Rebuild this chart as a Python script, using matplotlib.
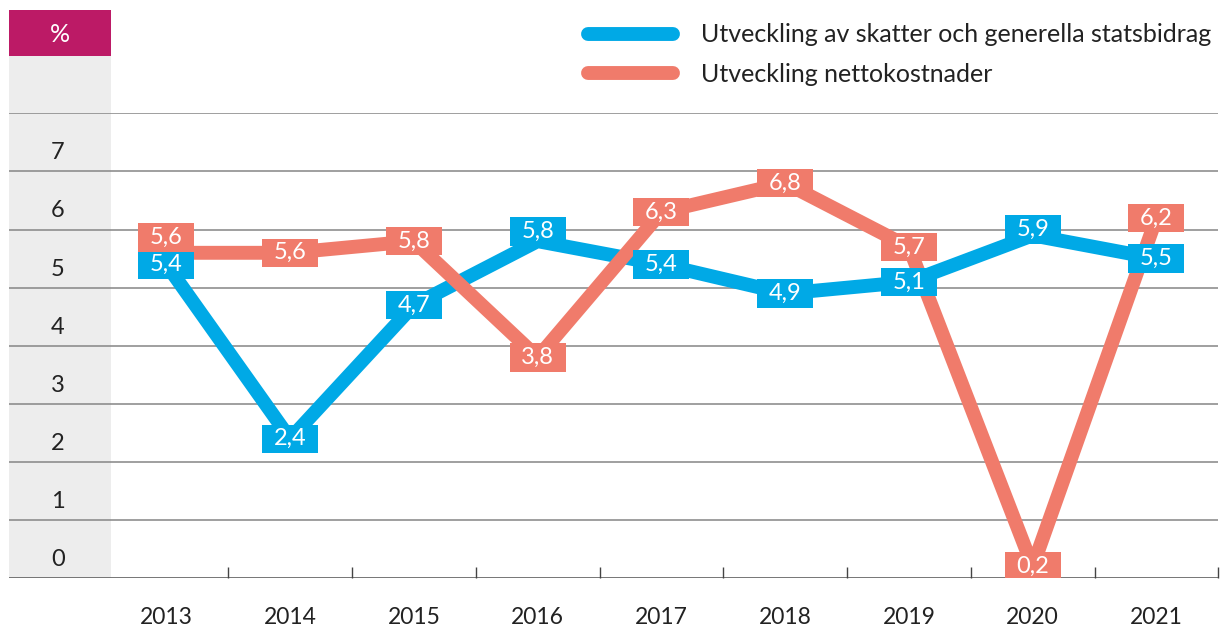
import matplotlib
matplotlib.use("Agg")
import matplotlib.pyplot as plt
from matplotlib.patches import Rectangle
from matplotlib.lines import Line2D

# Données
years = ["2013", "2014", "2015", "2016", "2017", "2018", "2019", "2020", "2021"]
skatter = [5.4, 2.4, 4.7, 5.8, 5.4, 4.9, 5.1, 5.9, 5.5]
netto = [5.6, 5.6, 5.8, 3.8, 6.3, 6.8, 5.7, 0.2, 6.2]
ytick_vals = [0, 1, 2, 3, 4, 5, 6, 7]
label_skatter = "Utveckling av skatter och generella statsbidrag"
label_netto = "Utveckling nettokostnader"

blue = "#00A9E6"
red = "#F07B6B"
pink = "#BC1A66"
grey_band = "#EDEDED"
grid_col = "#858585"
txt_col = "#222222"

plt.rcParams['font.family'] = ['Lato', 'DejaVu Sans']

W, H = 1220, 628
fig = plt.figure(figsize=(W / 100, H / 100), dpi=100)

def fx(px):
    return px / W

def fy(py):
    return 1 - py / H

ax = fig.add_axes([fx(9), fy(578.3), fx(1218.3) - fx(9), fy(113.3) - fy(578.3)])
ax.patch.set_alpha(0)
ax.set_xlim(-1.2717, 8.5)
ax.set_ylim(0, 8)
for s in ax.spines.values():
    s.set_visible(False)

# Zone grise et case rose à gauche (sous la grille)
ax.add_patch(Rectangle((fx(9), fy(578)), fx(111) - fx(9), fy(55) - fy(578),
                       transform=fig.transFigure, fc=grey_band, ec='none', zorder=0.5, clip_on=False))
ax.add_patch(Rectangle((fx(9), fy(55.5)), fx(111) - fx(9), fy(10) - fy(55.5),
                       transform=fig.transFigure, fc=pink, ec='none', zorder=0.5, clip_on=False))
fig.text(fx(60), fy(34), "%", color="white", ha="center", va="center", fontsize=18)

for v in range(1, 9):
    ax.axhline(v, color=grid_col, lw=1.1, zorder=1)
ax.axhline(0, color="#6b6b6b", lw=1.3, zorder=1)

# Graduations de l'axe X
x = list(range(len(years)))
ax.set_xticks(x)
ax.set_xticklabels(years, fontsize=16.5, color=txt_col)
ax.tick_params(axis='x', which='major', length=0, pad=21)
ax.set_xticks([i + 0.5 for i in x], minor=True)
ax.tick_params(axis='x', which='minor', direction='in', length=8, width=1, color="#444444")
ax.set_yticks([])

for v in ytick_vals:
    ax.text(-0.876, v + 0.32, str(v), ha="center", va="center", fontsize=17, color=txt_col)

# Courbes
lw = 10
ax.plot(x, skatter, color=blue, lw=lw, solid_joinstyle='miter', zorder=3)
ax.plot(x, netto, color=red, lw=lw, solid_joinstyle='miter', zorder=4)

def fmt(v):
    return f"{v:.1f}".replace(".", ",")

# étiquettes : boîtes de 56 x 28 px
bw = 56 / 123.75
bh = 28.5 / 58.1
off_skatter = [0, 0, 0, 0.17, 0, 0, 0, 0.1, 0]
off_netto = [0.26, 0, 0, 0, 0, 0, 0, 0, 0]

def etiquette(i, v, dy, col, z):
    yc = v + dy
    ax.add_patch(Rectangle((i - bw / 2, yc - bh / 2), bw, bh, fc=col, ec='none', zorder=z))
    ax.text(i, yc, fmt(v), ha='center', va='center', color='white', fontsize=17, zorder=z + 0.1)

for i, v in enumerate(skatter):
    etiquette(i, v, off_skatter[i], blue, 5)
for i, v in enumerate(netto):
    etiquette(i, v, off_netto[i], red, 6)

# Légende
for yy, col, lab in [(33.5, blue, label_skatter), (73, red, label_netto)]:
    fig.lines.append(Line2D([fx(588), fx(673)], [fy(yy), fy(yy)], transform=fig.transFigure,
                            color=col, lw=10, solid_capstyle='round'))
    fig.text(fx(701), fy(yy + 1), lab, ha="left", va="center", fontsize=18, color=txt_col)

fig.savefig("out.png", dpi=100)
